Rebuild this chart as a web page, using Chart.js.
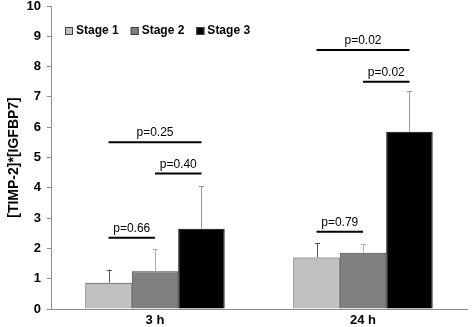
<!DOCTYPE html>
<html lang="en">
<head>
    <meta charset="UTF-8">
    <script src="https://cdn.jsdelivr.net/npm/chart.js"></script>
    <title>TIMP-2 IGFBP7</title>
    <style>
        html, body { margin: 0; padding: 0; background: #fff; }
        #box { width: 472px; height: 327px; }
    </style>
</head>
<body>
<div id="box"><canvas id="myChart"></canvas></div>
<script>
    // data
    let categories = ['3 h', '24 h'];
    let stage1 = [0.87, 1.70];
    let stage2 = [1.25, 1.86];
    let stage3 = [2.65, 5.85];
    let stage1Err = [1.30, 2.18];
    let stage2Err = [1.98, 2.15];
    let stage3Err = [4.05, 7.20];
    let yTicks = [0, 1, 2, 3, 4, 5, 6, 7, 8, 9, 10];

    // significance brackets: category, from stage, to stage, height, label
    let sigCat = [0, 0, 0, 1, 1, 1];
    let sigFrom = [0, 1, 0, 0, 1, 0];
    let sigTo = [1, 2, 2, 1, 2, 2];
    let sigY = [2.35, 4.47, 5.50, 2.55, 7.50, 8.55];
    let sigText = ['p=0.66', 'p=0.40', 'p=0.25', 'p=0.79', 'p=0.02', 'p=0.02'];

    const FONT = '"Liberation Sans", Arial, sans-serif';

    let errColors = ['#555555', '#b0b0b0', '#999999'];
    let errData = [stage1Err, stage2Err, stage3Err];

    // error bars, brackets and legend
    let extras = {
        id: 'extras',
        afterDatasetsDraw(chart) {
            let ctx = chart.ctx;
            let y = chart.scales.y;
            ctx.save();
            // error bars (upper only)
            for (let d = 0; d < 3; d++) {
                let meta = chart.getDatasetMeta(d);
                meta.data.forEach(function (bar, i) {
                    let top = y.getPixelForValue(errData[d][i]);
                    ctx.strokeStyle = errColors[d];
                    ctx.lineWidth = 1;
                    ctx.beginPath();
                    ctx.moveTo(Math.round(bar.x) + 0.5, bar.y);
                    ctx.lineTo(Math.round(bar.x) + 0.5, top);
                    ctx.moveTo(Math.round(bar.x) - 2, Math.round(top) + 0.5);
                    ctx.lineTo(Math.round(bar.x) + 3, Math.round(top) + 0.5);
                    ctx.stroke();
                });
            }
            // brackets
            ctx.font = '12px ' + FONT;
            ctx.fillStyle = '#000';
            ctx.textAlign = 'center';
            ctx.textBaseline = 'alphabetic';
            for (let k = 0; k < sigText.length; k++) {
                let x1 = chart.getDatasetMeta(sigFrom[k]).data[sigCat[k]].x;
                let x2 = chart.getDatasetMeta(sigTo[k]).data[sigCat[k]].x;
                let py = y.getPixelForValue(sigY[k]);
                ctx.strokeStyle = '#000';
                ctx.lineWidth = 2;
                ctx.beginPath();
                ctx.moveTo(x1, py);
                ctx.lineTo(x2, py);
                ctx.stroke();
                ctx.fillText(sigText[k], (x1 + x2) / 2, py - 6);
            }
            // legend
            let lx = 65;
            let ly = 31;
            ctx.font = 'bold 12px ' + FONT;
            ctx.textAlign = 'left';
            ctx.textBaseline = 'middle';
            chart.data.datasets.forEach(function (ds) {
                ctx.fillStyle = ds.backgroundColor;
                ctx.fillRect(lx, ly - 4, 8, 8);
                ctx.strokeStyle = '#404040';
                ctx.lineWidth = 1;
                ctx.strokeRect(lx + 0.5, ly - 3.5, 7, 7);
                ctx.fillStyle = '#000';
                ctx.fillText(ds.label, lx + 11, ly);
                lx += 11 + ctx.measureText(ds.label).width + 12;
            });
            ctx.restore();
        }
    };

    let ctx = document.getElementById('myChart');
    let configs = {
        type: 'bar',
        data: {
            labels: categories,
            datasets: [
                { label: 'Stage 1', data: stage1, backgroundColor: '#c0c0c0', borderColor: '#404040', borderWidth: 1 },
                { label: 'Stage 2', data: stage2, backgroundColor: '#808080', borderColor: '#404040', borderWidth: 1 },
                { label: 'Stage 3', data: stage3, backgroundColor: '#000000', borderColor: '#000000', borderWidth: 1 }
            ]
        },
        options: {
            responsive: true,
            maintainAspectRatio: false,
            animation: false,
            layout: { padding: { top: 6, right: 5, left: 0, bottom: 0 } },
            datasets: { bar: { categoryPercentage: 0.67, barPercentage: 1.0 } },
            plugins: {
                legend: { display: false },
                tooltip: { enabled: false }
            },
            scales: {
                x: {
                    grid: { display: false, drawTicks: false },
                    border: { color: '#8c8c8c' },
                    ticks: { color: '#000', padding: 4, font: { family: FONT, size: 13, weight: 'bold' } },
                    afterFit: function (s) { s.height = 18; s.paddingLeft = 0; s.paddingRight = 0; }
                },
                y: {
                    min: 0,
                    max: 10,
                    afterBuildTicks: function (s) { s.ticks = yTicks.map(function (v) { return { value: v }; }); },
                    grid: { drawOnChartArea: false, drawTicks: true, tickLength: 4, color: '#8c8c8c' },
                    border: { color: '#8c8c8c' },
                    ticks: { color: '#000', padding: 6, font: { family: FONT, size: 13, weight: 'bold' } },
                    title: {
                        display: true,
                        text: '[TIMP-2]*[IGFBP7]',
                        color: '#000',
                        padding: { top: 6, bottom: 4 },
                        font: { family: FONT, size: 14, weight: 'bold' }
                    },
                    afterFit: function (s) { s.width = 51; s.paddingTop = 0; s.paddingBottom = 0; }
                }
            }
        },
        plugins: [extras]
    };
    let myChart = new Chart(ctx, configs);
</script>
</body>
</html>
